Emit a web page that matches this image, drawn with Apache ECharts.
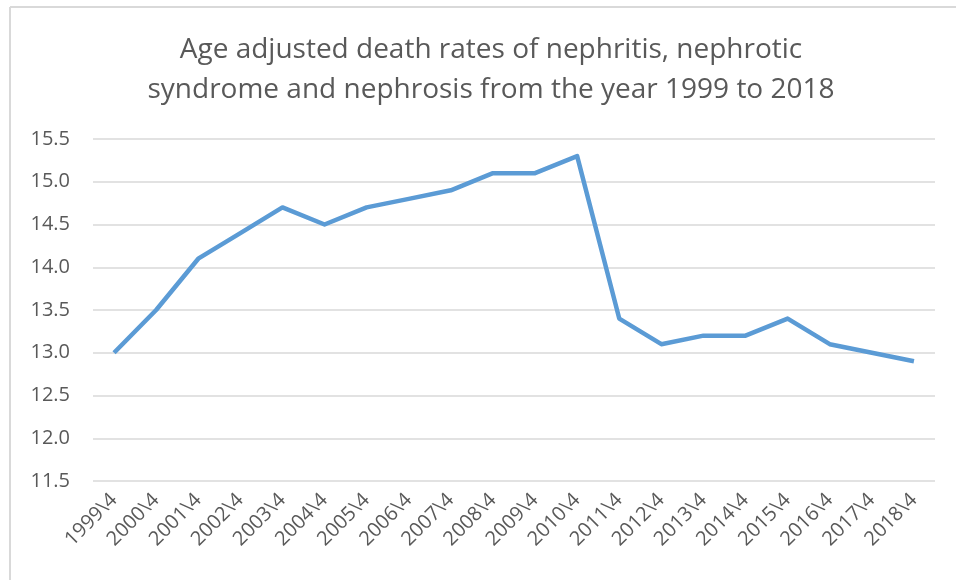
<!DOCTYPE html>
<html>
<head>
<meta charset="utf-8">
<script src="https://cdn.jsdelivr.net/npm/echarts@6/dist/echarts.min.js"></script>
<style>
  html, body { margin: 0; padding: 0; background: #fff; }
  #main { width: 956px; height: 580px; }
</style>
</head>
<body>
<div id="main"></div>
<script>
// data
const years = ['1999\\4', '2000\\4', '2001\\4', '2002\\4', '2003\\4', '2004\\4', '2005\\4',
  '2006\\4', '2007\\4', '2008\\4', '2009\\4', '2010\\4', '2011\\4', '2012\\4', '2013\\4',
  '2014\\4', '2015\\4', '2016\\4', '2017\\4', '2018\\4'];
const rates = [13.0, 13.5, 14.1, 14.4, 14.7, 14.5, 14.7, 14.8, 14.9, 15.1,
  15.1, 15.3, 13.4, 13.1, 13.2, 13.2, 13.4, 13.1, 13.0, 12.9];
const yMin = 11.5, yMax = 15.5, yStep = 0.5;

const font = 'Open Sans, sans-serif';
const grey = '#595959';

let myChart = echarts.init(document.getElementById('main'));
myChart.setOption({
  animation: false,
  title: {
    text: 'Age adjusted death rates of nephritis, nephrotic\nsyndrome and nephrosis from the year 1999 to 2018',
    left: 486,
    top: 25,
    textAlign: 'center',
    textStyle: {
      fontFamily: font,
      fontSize: 28,
      fontWeight: 'normal',
      color: grey,
      lineHeight: 40,
      align: 'center'
    }
  },
  graphic: [
    { type: 'line', shape: { x1: 10, y1: 7, x2: 10, y2: 580 }, style: { stroke: '#d9d9d9', lineWidth: 2 } },
    { type: 'line', shape: { x1: 10, y1: 7, x2: 956, y2: 7 }, style: { stroke: '#d9d9d9', lineWidth: 2 } }
  ],
  grid: {
    left: 93,
    right: 21,
    top: 139,
    bottom: 99,
    containLabel: false
  },
  xAxis: {
    type: 'category',
    data: years,
    boundaryGap: true,
    axisLine: { show: false },
    axisTick: { show: false },
    axisLabel: {
      rotate: 45,
      interval: 0,
      margin: 16,
      fontFamily: font,
      fontSize: 20,
      color: grey
    }
  },
  yAxis: {
    type: 'value',
    min: yMin,
    max: yMax,
    interval: yStep,
    axisLine: { show: false },
    axisTick: { show: false },
    axisLabel: {
      margin: 23,
      fontFamily: font,
      fontSize: 20,
      color: grey,
      formatter: v => v.toFixed(1)
    },
    splitLine: { lineStyle: { color: '#d9d9d9', width: 1.5 } }
  },
  series: [{
    type: 'line',
    data: rates,
    symbol: 'none',
    lineStyle: { color: '#5b9bd5', width: 4.5, join: 'round' }
  }]
});
</script>
</body>
</html>
